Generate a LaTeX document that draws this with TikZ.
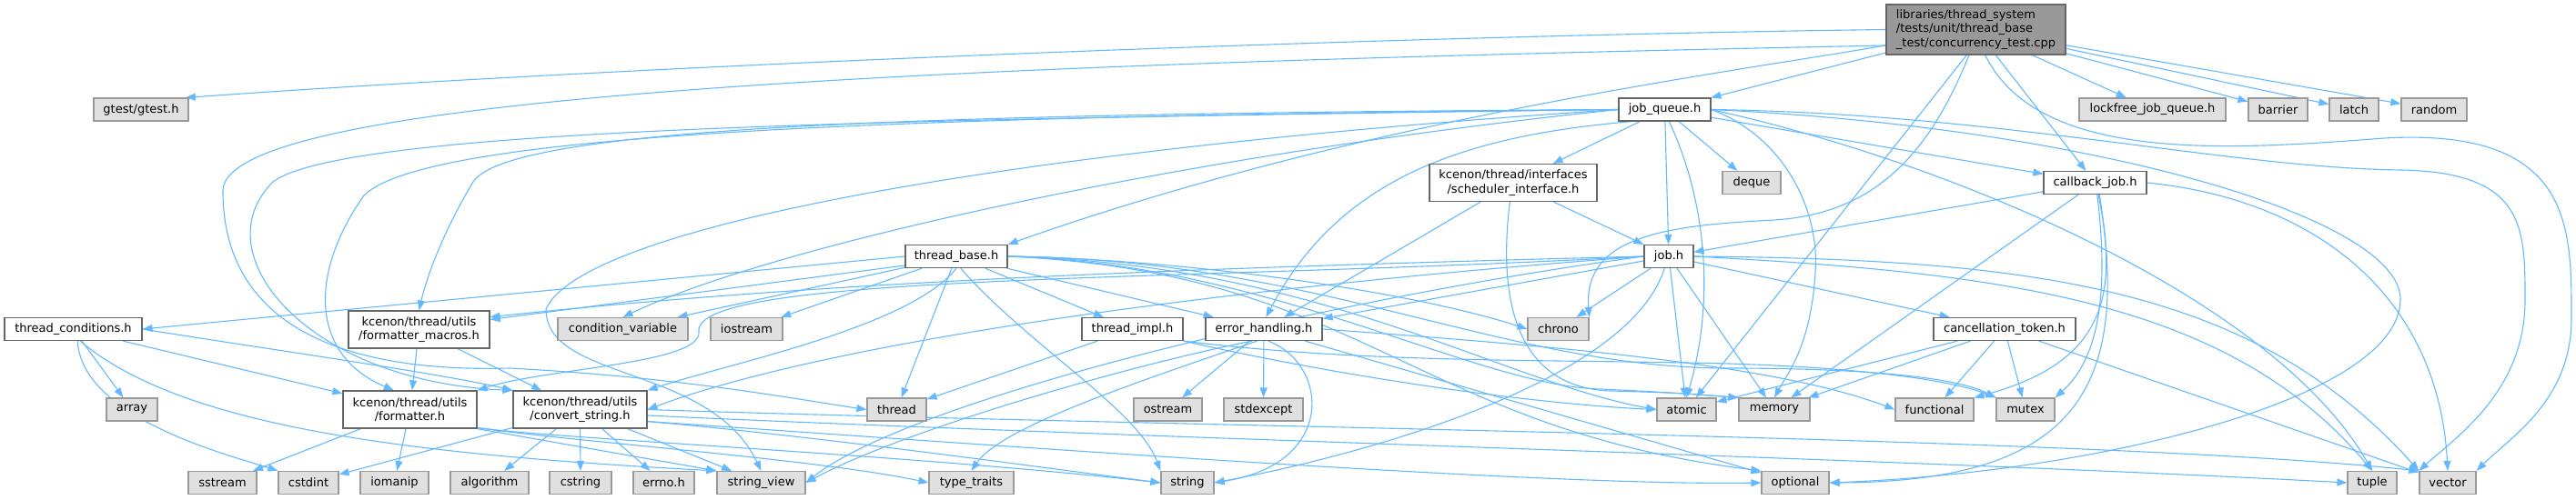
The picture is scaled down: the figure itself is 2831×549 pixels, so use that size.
\documentclass[tikz,border=0pt]{standalone}
\usepackage{fontspec}
\setmainfont{DejaVu Sans}
\usetikzlibrary{arrows.meta}
\definecolor{edgec}{HTML}{63B8FF}
\definecolor{bordA}{HTML}{666666}
\definecolor{bordB}{HTML}{999999}
\definecolor{fillB}{HTML}{E0E0E0}
\definecolor{fillR}{HTML}{999999}
\pgfdeclarelayer{bg}
\pgfsetlayers{bg,main}
\begin{document}
\begin{tikzpicture}[x=1pt,y=-1pt,
  lbox/.style={draw=bordA, fill=white, line width=1.2pt, inner sep=0pt, minimum height=25pt, align=center, font=\fontsize{13}{15.2}\selectfont},
  sbox/.style={lbox, draw=bordB, fill=fillB},
  rbox/.style={lbox, fill=fillR, align=left},
  twol/.style={minimum height=41pt},
  edge/.style={draw=edgec, line width=1.1pt, -{Triangle[length=11pt,width=8pt]}}]
\useasboundingbox (0,0) rectangle (2831,549);
% root
\node[rbox, minimum width=197pt, minimum height=55pt] (R) at (2171.5,32.5) {libraries/thread\_system\\/tests/unit/thread\_base\\\_test/concurrency\_test.cpp};
% row 2
\node[sbox, minimum width=104pt] (gtest) at (155,120.5) {gtest/gtest.h};
\node[lbox, minimum width=101pt] (jq) at (1829.5,120.5) {job\_queue.h};
\node[sbox, minimum width=161pt] (lockfree) at (2365.5,120.5) {lockfree\_job\_queue.h};
\node[sbox, minimum width=65pt] (barrier) at (2503.5,120.5) {barrier};
\node[sbox, minimum width=54pt] (latch) at (2587,120.5) {latch};
\node[sbox, minimum width=72pt] (random) at (2675,120.5) {random};
% row 3
\node[lbox, twol, minimum width=184pt] (sched) at (1663,201) {kcenon/thread/interfaces\\/scheduler\_interface.h};
\node[sbox, minimum width=64pt] (deque) at (1925,201) {deque};
\node[lbox, minimum width=113pt] (cb) at (2302.5,201) {callback\_job.h};
% row 4
\node[lbox, minimum width=112pt] (tb) at (1051,282) {thread\_base.h};
\node[lbox, minimum width=54pt] (job) at (1834,282) {job.h};
% row 5
\node[lbox, minimum width=151pt] (tc) at (80.5,362) {thread\_conditions.h};
\node[lbox, twol, minimum width=155pt] (fm) at (460.5,362.5) {kcenon/thread/utils\\/formatter\_macros.h};
\node[sbox, minimum width=143pt] (cv) at (684.5,362) {condition\_variable};
\node[sbox, minimum width=79pt] (io) at (820.5,362) {iostream};
\node[lbox, minimum width=111pt] (ti) at (1244.5,362) {thread\_impl.h};
\node[lbox, minimum width=128pt] (er) at (1389,362) {error\_handling.h};
\node[sbox, minimum width=67pt] (chrono) at (1712.5,362) {chrono};
\node[lbox, minimum width=156pt] (cancel) at (2203,362) {cancellation\_token.h};
% row 6
\node[sbox, minimum width=56pt] (array) at (145,450.5) {array};
\node[lbox, twol, minimum width=147pt] (fmt) at (450.5,450.5) {kcenon/thread/utils\\/formatter.h};
\node[lbox, twol, minimum width=147pt] (conv) at (637.5,450.5) {kcenon/thread/utils\\/convert\_string.h};
\node[sbox, minimum width=65pt] (thread) at (985.5,450.5) {thread};
\node[sbox, minimum width=75pt] (ostream) at (1283.5,450.5) {ostream};
\node[sbox, minimum width=87pt] (stdexcept) at (1388.5,450.5) {stdexcept};
\node[sbox, minimum width=65pt] (atomic) at (1853.5,450.5) {atomic};
\node[sbox, minimum width=78pt] (mem) at (1950,450.5) {memory};
\node[sbox, minimum width=86pt] (func) at (2126,450.5) {functional};
\node[sbox, minimum width=64pt] (mutex) at (2226,450.5) {mutex};
% row 7
\node[sbox, minimum width=75pt] (sstream) at (244.5,531) {sstream};
\node[sbox, minimum width=66pt] (cstdint) at (339,531) {cstdint};
\node[sbox, minimum width=75pt] (iomanip) at (433.5,531) {iomanip};
\node[sbox, minimum width=86pt] (algorithm) at (538,531) {algorithm};
\node[sbox, minimum width=68pt] (cstring) at (638,531) {cstring};
\node[sbox, minimum width=67pt] (errno) at (729.5,531) {errno.h};
\node[sbox, minimum width=97pt] (sv) at (836.5,531) {string\_view};
\node[sbox, minimum width=93pt] (tt) at (1067.5,531) {type\_traits};
\node[sbox, minimum width=58pt] (string) at (1305,531) {string};
\node[sbox, minimum width=74pt] (opt) at (1973,531) {optional};
\node[sbox, minimum width=54pt] (tuple) at (2607,531) {tuple};
\node[sbox, minimum width=62pt] (vector) at (2690,531) {vector};

\begin{pgfonlayer}{bg}
% ---- root
\draw[edge] (R.west) .. controls (1500,40) and (700,72) .. (gtest.15);
\draw[edge] (R.190) .. controls (1100,70) and (245,100) .. (245,210) .. controls (245,360) and (380,410) .. (560,405) .. controls (750,415) and (880,440) .. (thread.west);
\draw[edge] (R) -- (jq);
\draw[edge] (R) -- (lockfree);
\draw[edge] (R) -- (barrier);
\draw[edge] (R) -- (latch);
\draw[edge] (R) -- (random);
\draw[edge] (R) -- (cb);
\draw[edge] (R.190) .. controls (1900,80) and (1500,130) .. (tb.north east);
\draw[edge] (R.250) -- (atomic);
\draw[edge] (R.255) .. controls (2120,170) and (2060,235) .. (1950,242) .. controls (1830,248) and (1740,260) .. (chrono.north east);
\draw[edge] (R.290) .. controls (2240,180) and (2450,165) .. (2620,152) .. controls (2828,140) and (2826,250) .. (2826,350) .. controls (2826,440) and (2760,480) .. (vector.north east);
% ---- job_queue
\draw[edge] (jq) -- (sched);
\draw[edge] (jq) -- (job);
\draw[edge] (jq) -- (deque);
\draw[edge] (jq) -- (cb);
\draw[edge] (jq.west) .. controls (1000,125) and (560,140) .. (520,200) .. controls (490,250) and (470,300) .. (fm.north);
\draw[edge] (jq.west) .. controls (1000,128) and (470,145) .. (400,215) .. controls (340,300) and (340,390) .. (fmt.130);
\draw[edge] (jq.west) .. controls (1000,131) and (380,140) .. (300,200) .. controls (220,280) and (340,420) .. (conv.north west);
\draw[edge] (jq.200) .. controls (1600,150) and (1470,200) .. (er.80);
\draw[edge] (jq.west) .. controls (1100,165) and (640,250) .. (600,340) .. controls (600,420) and (780,400) .. (sv.north);
\draw[edge] (jq.west) .. controls (1300,170) and (850,270) .. (cv.north);
\draw[edge] (jq.290) .. controls (1875,220) and (1885,330) .. (atomic.north);
\draw[edge] (jq.east) .. controls (1960,150) and (2000,230) .. (1995,300) .. controls (1990,380) and (1965,410) .. (mem.north);
\draw[edge] (jq.east) .. controls (2150,180) and (2500,330) .. (tuple.north);
\draw[edge] (jq.east) .. controls (2200,125) and (2450,185) .. (2640,187) .. controls (2775,190) and (2775,250) .. (2775,330) .. controls (2775,430) and (2700,480) .. (vector.north west);
\draw[edge] (jq.east) .. controls (2300,140) and (2640,240) .. (2638,330) .. controls (2636,440) and (2300,520) .. (opt.east);
% ---- thread_base
\draw[edge] (tb.west) -- (tc.east);
\draw[edge] (tb.190) -- (fm.8);
\draw[edge] (tb) -- (cv);
\draw[edge] (tb) -- (io);
\draw[edge] (tb) -- (thread);
\draw[edge] (tb) -- (ti);
\draw[edge] (tb) -- (er);
\draw[edge] (tb.south) .. controls (1000,360) and (800,400) .. (conv.north east);
\draw[edge] (tb.east) .. controls (1300,285) and (1550,320) .. (chrono.west);
\draw[edge] (tb.east) .. controls (1450,290) and (1650,420) .. (atomic.west);
\draw[edge] (tb.east) .. controls (1400,290) and (1620,425) .. (1760,428) .. controls (1840,432) .. (mem.north west);
\draw[edge] (tb.east) .. controls (1450,285) and (1650,405) .. (1900,405) .. controls (2050,405) and (2150,415) .. (mutex.north west);
\draw[edge] (tb.east) .. controls (1500,300) and (1550,470) .. (opt.north west);
\draw[edge] (tb.290) .. controls (1130,380) and (1250,450) .. (string.north west);
% ---- job.h
\draw[edge] (job) -- (er);
\draw[edge] (job) -- (cancel);
\draw[edge] (job) -- (chrono);
\draw[edge] (job) -- (atomic);
\draw[edge] (job) -- (mem);
\draw[edge] (job.250) .. controls (1790,420) and (1500,500) .. (string.east);
\draw[edge] (job.west) .. controls (1300,310) and (760,300) .. (768,365) .. controls (772,400) and (600,405) .. (fmt.north east);
\draw[edge] (job.west) .. controls (1300,320) and (900,380) .. (conv.east);
\draw[edge] (job.west) .. controls (1300,295) and (900,310) .. (fm.10);
\draw[edge] (job.west) .. controls (1450,330) and (1000,440) .. (sv.east);
\draw[edge] (job.east) .. controls (2200,300) and (2450,330) .. (tuple.north);
\draw[edge] (job.east) .. controls (2250,285) and (2480,320) .. (vector.north west);
% ---- cancellation_token
\draw[edge] (cancel) -- (atomic);
\draw[edge] (cancel) -- (mem);
\draw[edge] (cancel) -- (func);
\draw[edge] (cancel) -- (mutex);
\draw[edge] (cancel) -- (vector);
% ---- scheduler_interface
\draw[edge] (sched) -- (job);
\draw[edge] (sched) -- (er);
\draw[edge] (sched.260) .. controls (1640,380) and (1700,428) .. (1770,430) .. controls (1840,432) .. (mem.north west);
% ---- callback_job
\draw[edge] (cb) -- (job);
\draw[edge] (cb) -- (mem);
\draw[edge] (cb.285) .. controls (2330,330) and (2310,400) .. (func.north east);
\draw[edge] (cb.280) .. controls (2320,340) and (2300,400) .. (mutex.north east);
\draw[edge] (cb.290) .. controls (2340,420) and (2290,530) .. (opt.east);
\draw[edge] (cb.east) .. controls (2550,220) and (2680,330) .. (vector.north);
% ---- error_handling
\draw[edge] (er) -- (ostream);
\draw[edge] (er) -- (stdexcept);
\draw[edge] (er.290) .. controls (1460,400) and (1470,510) .. (string.east);
\draw[edge] (er.240) .. controls (1250,420) and (1100,470) .. (tt.north);
\draw[edge] (er.225) .. controls (1250,400) and (1000,470) .. (sv.east);
\draw[edge] (er) -- (opt);
\draw[edge] (er.east) .. controls (1700,380) and (1950,400) .. (func.west);
% ---- thread_impl
\draw[edge] (ti) -- (thread);
\draw[edge] (ti.south east) .. controls (1500,420) and (1700,445) .. (atomic.west);
\draw[edge] (ti.south east) .. controls (1500,400) and (1700,395) .. (1900,400) .. controls (2060,405) and (2150,420) .. (mutex.north west);
% ---- thread_conditions
\draw[edge] (tc) -- (array);
\draw[edge] (tc.290) .. controls (90,460) and (250,500) .. (cstdint.north west);
\draw[edge] (tc) -- (fmt);
\draw[edge] (tc.east) .. controls (300,385) and (480,410) .. (conv.north west);
\draw[edge] (tc.300) .. controls (200,470) and (450,500) .. (sv.north west);
% ---- formatter_macros
\draw[edge] (fm) -- (fmt);
\draw[edge] (fm) -- (conv);
% ---- formatter
\draw[edge] (fmt) -- (sstream);
\draw[edge] (fmt) -- (iomanip);
\draw[edge] (fmt.south east) -- (sv.north west);
\draw[edge] (fmt.-15) .. controls (600,482) and (1000,500) .. (string.west);
\draw[edge] (fmt.-15) .. controls (620,485) and (900,505) .. (tt.west);
% ---- convert_string
\draw[edge] (conv) -- (cstdint);
\draw[edge] (conv) -- (algorithm);
\draw[edge] (conv) -- (cstring);
\draw[edge] (conv) -- (errno);
\draw[edge] (conv) -- (sv);
\draw[edge] (conv.-10) .. controls (900,480) and (1150,515) .. (string.west);
\draw[edge] (conv.-10) .. controls (1100,490) and (1700,535) .. (opt.west);
\draw[edge] (conv.-5) .. controls (1200,480) and (2100,505) .. (tuple.west);
\draw[edge] (conv.east) .. controls (1300,470) and (2300,480) .. (vector.north west);
\end{pgfonlayer}
\end{tikzpicture}
\end{document}
